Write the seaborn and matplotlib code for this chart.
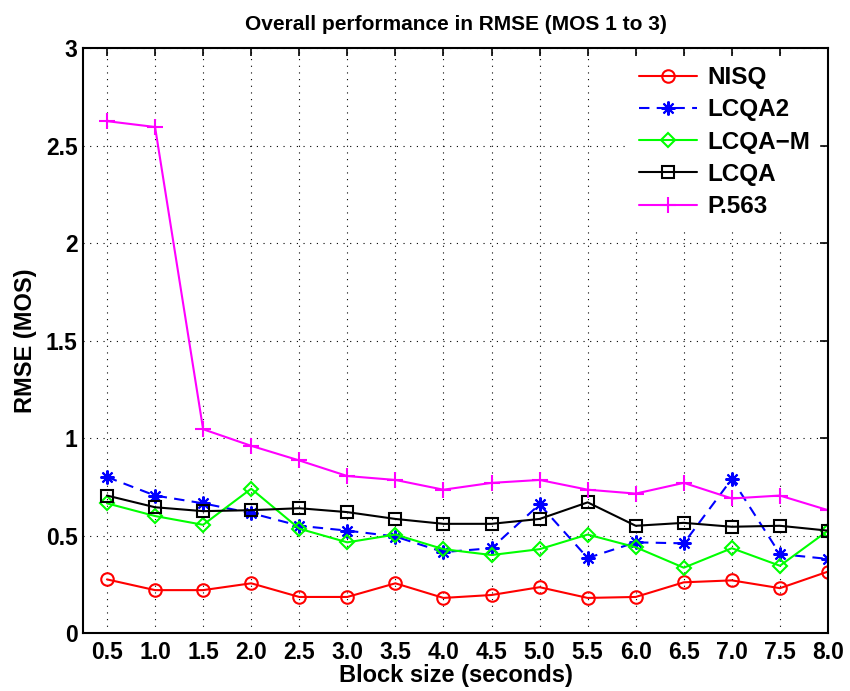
import matplotlib
matplotlib.use("Agg")
import matplotlib.pyplot as plt
import seaborn as sns
import numpy as np

block_size = [0.5, 1.0, 1.5, 2.0, 2.5, 3.0, 3.5, 4.0, 4.5, 5.0, 5.5, 6.0, 6.5, 7.0, 7.5, 8.0]
x_tick_labels = ["0.5", "1.0", "1.5", "2.0", "2.5", "3.0", "3.5", "4.0",
                 "4.5", "5.0", "5.5", "6.0", "6.5", "7.0", "7.5", "8.0"]
y_ticks = [0, 0.5, 1, 1.5, 2, 2.5, 3]
y_tick_labels = ["0", "0.5", "1", "1.5", "2", "2.5", "3"]

nisq = [0.275, 0.22, 0.22, 0.255, 0.185, 0.185, 0.255, 0.18, 0.195, 0.235, 0.18, 0.185, 0.26, 0.27, 0.23, 0.315]
lcqa2 = [0.80, 0.705, 0.665, 0.615, 0.55, 0.525, 0.495, 0.415, 0.435, 0.66, 0.385, 0.465, 0.46, 0.79, 0.405, 0.38]
lcqa_m = [0.665, 0.60, 0.555, 0.74, 0.535, 0.465, 0.505, 0.43, 0.40, 0.43, 0.505, 0.44, 0.335, 0.435, 0.345, 0.525]
lcqa = [0.705, 0.645, 0.625, 0.63, 0.64, 0.62, 0.585, 0.56, 0.56, 0.585, 0.67, 0.55, 0.565, 0.545, 0.55, 0.525]
p563 = [2.625, 2.595, 1.045, 0.96, 0.885, 0.805, 0.785, 0.735, 0.77, 0.785, 0.735, 0.715, 0.77, 0.69, 0.705, 0.63]

sns.set_theme(style="white")
plt.rcParams["font.family"] = ["Liberation Sans", "DejaVu Sans"]
plt.rcParams["font.weight"] = "bold"
plt.rcParams["text.color"] = "black"
plt.rcParams["axes.labelcolor"] = "black"
plt.rcParams["xtick.color"] = "black"
plt.rcParams["ytick.color"] = "black"

fig = plt.figure(figsize=(8.5, 6.91), dpi=100)
ax = fig.add_axes([0.0976, 0.0839, 0.8765, 0.8466])

series = [
    ("NISQ", nisq, "#ff0000", "o", "-"),
    ("LCQA2", lcqa2, "#0000ff", (8, 2, 0), (0, (5, 3.5))),
    ("LCQA\u2212M", lcqa_m, "#00ff00", "D", "-"),
    ("LCQA", lcqa, "#000000", "s", "-"),
    ("P.563", p563, "#ff00ff", "+", "-"),
]

for name, vals, col, mk, ls in series:
    msize = {"o": 9, "D": 7, "s": 9, "+": 11}.get(mk, 10) if isinstance(mk, str) else 10
    sns.lineplot(x=block_size, y=vals, ax=ax, color=col, marker=mk, linestyle=ls,
                 linewidth=1.5, markersize=msize, markerfacecolor="none",
                 markeredgecolor=col, markeredgewidth=1.5, label=name)

ax.set_xlim(0.25, 8.0)
ax.set_ylim(0, 3)
ax.set_xticks(block_size)
ax.set_xticklabels(x_tick_labels)
ax.set_yticks(y_ticks)
ax.set_yticklabels(y_tick_labels)

ax.grid(True, color="black", linestyle=(0, (1, 5)), linewidth=0.8)
ax.tick_params(axis="both", which="both", direction="in", top=True, right=True,
               length=6, width=1.2, labelsize=16.5, colors="black")
ax.tick_params(axis="x", pad=6)
ax.tick_params(axis="y", pad=4)
for lab in ax.get_xticklabels() + ax.get_yticklabels():
    lab.set_fontweight("bold")
for sp in ax.spines.values():
    sp.set_color("black")
    sp.set_linewidth(1.5)

ax.set_xlabel("Block size (seconds)", fontsize=17, fontweight="bold", labelpad=0)
ax.set_ylabel("RMSE (MOS)", fontsize=17, fontweight="bold", labelpad=6)
ax.set_title("Overall performance in RMSE (MOS 1 to 3)", fontsize=15, fontweight="bold", pad=13)

leg = ax.legend(loc="upper right", frameon=True, fontsize=17.5, handlelength=2.4,
                borderaxespad=0.35, borderpad=0.4, labelspacing=0.38, handletextpad=0.4)
leg.get_frame().set_edgecolor("white")
leg.get_frame().set_facecolor("white")
leg.get_frame().set_alpha(1.0)
for t in leg.get_texts():
    t.set_fontweight("bold")

fig.savefig("out.png", dpi=100)
